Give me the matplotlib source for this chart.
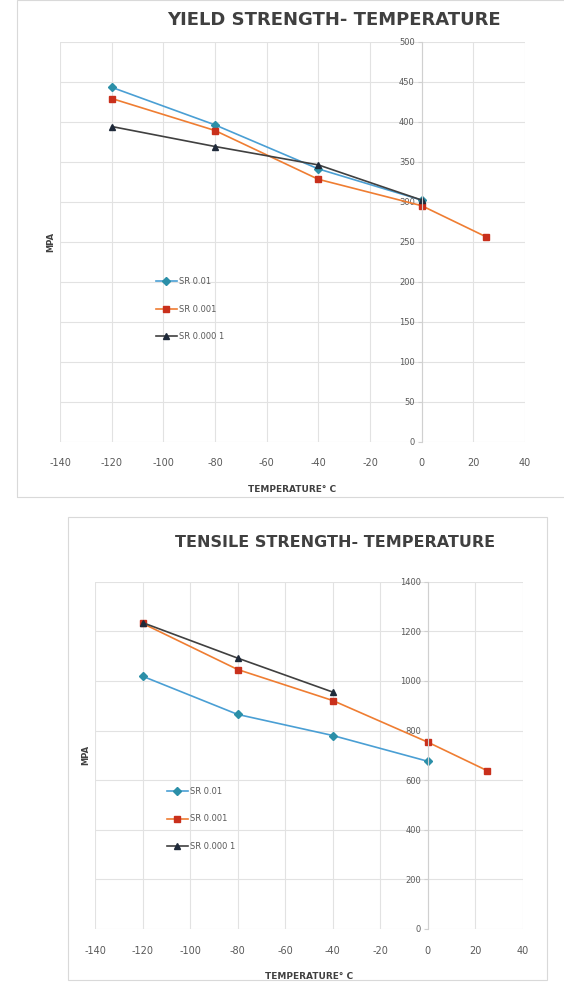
import matplotlib.pyplot as plt
from matplotlib.patches import Rectangle

plt.rcParams['axes.unicode_minus'] = False

# temperatures in deg C
temp = [-120, -80, -40, 0, 25]

# yield strength, MPa
ys_sr001 = [443, 396, 341, 302]
ys_sr0001 = [429, 389, 328, 295, 256]
ys_sr00001 = [394, 369, 346, 302]

# tensile strength, MPa
ts_sr001 = [1019, 865, 780, 676]
ts_sr0001 = [1232, 1046, 921, 753, 638]
ts_sr00001 = [1235, 1092, 955]

labels = ['SR 0.01', 'SR 0.001', 'SR 0.000 1']
xticks = [-140, -120, -100, -80, -60, -40, -20, 0, 20, 40]

BLUE = '#4a9fd4'
ORANGE = '#ef7d32'
RED = '#c9301c'
DARK = '#404040'
GRID = '#e2e2e2'
TXT = '#595959'


def draw_panel(ax, series, ymax, ystep, title, title_pos, title_size, legend_anchor):
    styles = [
        dict(color=BLUE, marker='D', markersize=4, markerfacecolor='#2b8fa8', markeredgecolor='#2b8fa8'),
        dict(color=ORANGE, marker='s', markersize=5, markerfacecolor=RED, markeredgecolor=RED),
        dict(color=DARK, marker='^', markersize=5, markerfacecolor='#1f2a3a', markeredgecolor='#1f2a3a'),
    ]
    for vals, lab, st in zip(series, labels, styles):
        ax.plot(temp[:len(vals)], vals, linewidth=1.2, label=lab, **st)

    ax.set_xlim(-140, 40)
    ax.set_ylim(0, ymax)
    ax.set_xticks(xticks)
    ax.set_yticks(range(0, ymax + 1, ystep))
    ax.grid(True, color=GRID, linewidth=0.8)
    ax.set_axisbelow(True)

    for s in ['top', 'right', 'bottom']:
        ax.spines[s].set_visible(False)
    ax.spines['left'].set_position(('data', 0))
    ax.spines['left'].set_color('#d0d0d0')
    ax.tick_params(axis='y', length=3, color='#d0d0d0', labelsize=6, labelcolor=TXT, pad=2)
    ax.tick_params(axis='x', length=0, labelsize=7, labelcolor=TXT, pad=12)

    ax.set_xlabel('TEMPERATURE° C', fontsize=6.5, fontweight='bold', color=DARK, labelpad=12)
    ax.set_ylabel('MPA', fontsize=6, fontweight='bold', color=DARK)
    ax.yaxis.set_label_coords(-0.01, 0.5, transform=ax.transAxes)

    ax.legend(loc='upper left', bbox_to_anchor=legend_anchor, frameon=False,
              fontsize=6, labelcolor=TXT, handlelength=2.5, labelspacing=2.2,
              handletextpad=0.3)
    ax.text(title_pos[0], title_pos[1], title, transform=ax.transAxes, ha='center', va='center',
            fontsize=title_size, fontweight='bold', color=DARK)


fig = plt.figure(figsize=(5.64, 9.85), dpi=100)

# chart frames
fig.patches.append(Rectangle((17 / 564, 1 - 497 / 985), 1, 497 / 985, transform=fig.transFigure,
                             fill=False, edgecolor='#d9d9d9', linewidth=0.8))
fig.patches.append(Rectangle((68 / 564, 1 - 980 / 985), 479 / 564, 463 / 985, transform=fig.transFigure,
                             fill=False, edgecolor='#d9d9d9', linewidth=0.8))

ax1 = fig.add_axes([60 / 564, 1 - 441.7 / 985, 465 / 564, 400 / 985])
draw_panel(ax1, [ys_sr001, ys_sr0001, ys_sr00001], 500, 50,
           'YIELD STRENGTH- TEMPERATURE', (0.589, 1.055), 13, (0.19, 0.43))

ax2 = fig.add_axes([95 / 564, 1 - 929 / 985, 428 / 564, 347.3 / 985])
draw_panel(ax2, [ts_sr001, ts_sr0001, ts_sr00001], 1400, 200,
           'TENSILE STRENGTH- TEMPERATURE', (0.561, 1.112), 11.5, (0.15, 0.43))

fig.savefig('out.png', dpi=100)
